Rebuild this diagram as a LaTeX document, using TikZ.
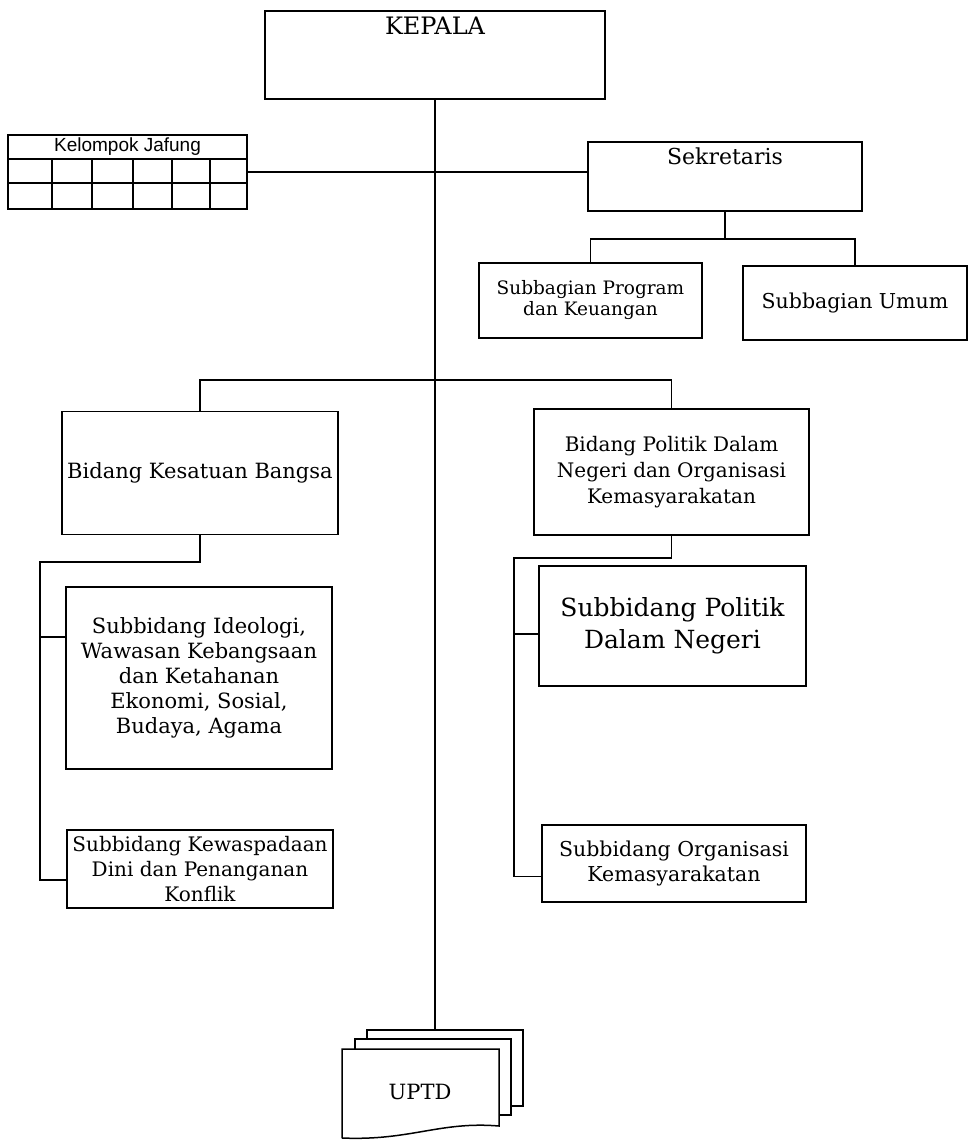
\documentclass[tikz,border=0pt]{standalone}
\usepackage{fontspec}
\setmainfont{DejaVu Serif}
\newfontfamily\jafungfont{Liberation Sans}

\begin{document}
\begin{tikzpicture}[
	x=1pt, y=-1pt,
	box/.style={
		rectangle,
		draw=black,
		line width=1.5pt,
		fill=white,
		inner sep=4pt,
		align=center,
		font=\fontsize{20}{25}\selectfont
	},
	sheet/.style={draw=black, line width=1.5pt, fill=white},
	line/.style={draw=black, line width=1.5pt}
]
\useasboundingbox (0,0) rectangle (968,1140);

% Pimpinan
\node[box, minimum width=340pt, minimum height=88pt, text height=20pt, text depth=60pt,
	font=\fontsize{24}{28}\selectfont] (kepala) at (435,55) {KEPALA};

% Kelompok Jafung
\node[box, minimum width=239pt, minimum height=74pt] (jafung) at (127.5,172) {};
\node[font=\jafungfont\fontsize{19}{22}\selectfont] (jafungjudul) at (127.5,147) {Kelompok Jafung};
\draw[line] (8,159) -- (247,159);
\draw[line] (8,183) -- (247,183);
\foreach \x in {52,92,133,172,210}
	\draw[line] (\x,159) -- (\x,209);

% Sekretariat
\node[box, minimum width=274pt, minimum height=69pt, text height=18pt, text depth=43pt,
	font=\fontsize{22}{26}\selectfont] (sekretaris) at (725,176.5) {Sekretaris};
\node[box, minimum width=223pt, minimum height=75pt, font=\fontsize{18.5}{21}\selectfont]
	(progkeu) at (590.5,300.5) {Subbagian Program\\dan Keuangan};
\node[box, minimum width=224pt, minimum height=74pt, font=\fontsize{20.5}{25}\selectfont]
	(umum) at (855,303) {Subbagian Umum};

% Bidang
\node[box, minimum width=276pt, minimum height=123pt, font=\fontsize{21}{26}\selectfont]
	(kesatuan) at (200,473) {Bidang Kesatuan Bangsa};
\node[box, minimum width=275pt, minimum height=126pt, font=\fontsize{20}{26}\selectfont]
	(politik) at (671.5,472) {Bidang Politik Dalam\\Negeri dan Organisasi\\Kemasyarakatan};

% Subbidang
\node[box, minimum width=266pt, minimum height=182pt, font=\fontsize{21}{25}\selectfont]
	(ideologi) at (199,678)
	{Subbidang Ideologi,\\Wawasan Kebangsaan\\dan Ketahanan\\Ekonomi, Sosial,\\Budaya, Agama};
\node[box, minimum width=266pt, minimum height=78pt, inner xsep=1pt] (waspada) at (200,869)
	{Subbidang Kewaspadaan\\Dini dan Penanganan\\Konflik};
\node[box, minimum width=267pt, minimum height=120pt, font=\fontsize{25}{32}\selectfont]
	(polsub) at (672.5,626) {Subbidang Politik\\Dalam Negeri};
\node[box, minimum width=264pt, minimum height=77pt, font=\fontsize{20.5}{25}\selectfont]
	(organisasi) at (674,863.5) {Subbidang Organisasi\\Kemasyarakatan};

% UPTD
\draw[sheet] (367,1030) rectangle (523,1106);
\draw[sheet] (355,1039) rectangle (511,1115);
\draw[sheet] (342,1138) -- (342,1049) -- (499,1049) -- (499,1126)
	.. controls (440,1121) and (410,1141) .. (342,1138);
\node[font=\fontsize{21}{25}\selectfont] (uptd) at (420,1092) {UPTD};
\coordinate (uptdtop) at (435,1030);

% Titik belok
\path (sekretaris.south) ++(0,27) coordinate (sekbus);
\coordinate (bidbus) at (435,380);
\coordinate (kiri) at (40,562);
\coordinate (kanan) at (514,558);
\path ([yshift=41pt]ideologi.west) coordinate (ideoin);
\path ([yshift=-11pt]waspada.west) coordinate (wasin);
\path ([yshift=-8pt]polsub.west) coordinate (polin);
\path ([yshift=-13pt]organisasi.west) coordinate (orgin);

% Garis
\draw[line] (kepala.south) -- (uptdtop);
\draw[line] (jafung.east) -- (jafung.east -| sekretaris.west);
\draw[line] (sekretaris.south) -- (sekbus);
\draw[line] (progkeu.north) |- (sekbus) -| (umum.north);
\draw[line] (kesatuan.north) |- (bidbus) -| (politik.north);
\draw[line] (kesatuan.south) |- (kiri) -- (kiri |- wasin) -- (wasin);
\draw[line] (kiri |- ideoin) -- (ideoin);
\draw[line] (politik.south) |- (kanan) -- (kanan |- orgin) -- (orgin);
\draw[line] (kanan |- polin) -- (polin);

\end{tikzpicture}
\end{document}
